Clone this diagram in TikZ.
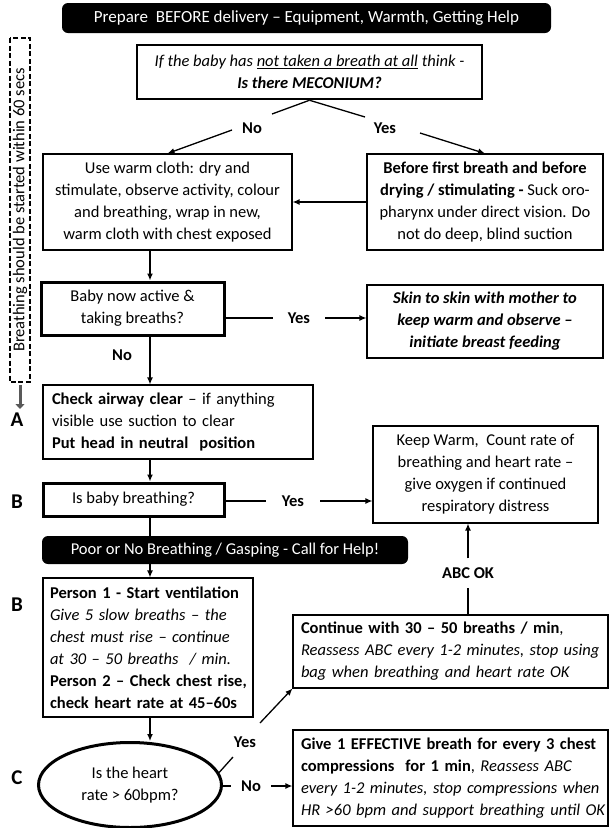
\documentclass[tikz,border=0pt]{standalone}
\usepackage{fontspec}
\setmainfont{Carlito}
\usetikzlibrary{arrows.meta,shapes.geometric,calc}
\newcommand\oneline[1]{\mbox{#1}}

\begin{document}
\begin{tikzpicture}[x=1pt,y=-1pt,
  font=\fontsize{16.5}{22}\selectfont,
  box/.style={draw, line width=1.1pt, inner sep=0pt, align=center},
  thickbox/.style={box, line width=3pt},
  leftbox/.style={box, align=left, inner xsep=#1},
  banner/.style={fill=black, text=white, rounded corners=6pt, inner sep=0pt},
  conn/.style={line width=1.3pt},
  arr/.style={conn, -{Latex[length=7pt,width=6pt]}},
  lbl/.style={font=\fontsize{16.5}{20}\selectfont\bfseries, inner ysep=0pt},
  letter/.style={font=\fontsize{21}{24}\selectfont\bfseries, inner sep=0pt},
]
\useasboundingbox (0,0) rectangle (609,828);

% --- headers -------------------------------------------------------
\node[banner, minimum width=489, minimum height=30, font=\fontsize{17}{22}\selectfont] (ban1) at (306.5,18)
  {Prepare\ \ BEFORE delivery – Equipment, Warmth, Getting Help};

\node[thickbox, line width=2.5pt, minimum width=345, minimum height=54] (mec) at (309.5,72)
  {\itshape If the baby has \underline{not taken a breath at all} think -\\
   \bfseries\itshape Is there MECONIUM?};

% --- first row -----------------------------------------------------
\node[box, minimum width=249, minimum height=96] (warm) at (167.5,202)
  {Use warm cloth: dry and\\ stimulate, observe activity, colour\\
   and breathing, wrap in new,\\ warm cloth with chest exposed};
\node[box, minimum width=236, minimum height=96] (before) at (485,202)
  {\textbf{Before first breath and before}\\ \textbf{drying / stimulating -} Suck oro-\\
   pharynx under direct vision. Do\\ not do deep, blind suction};

\node[thickbox, minimum width=183, minimum height=53] (baby) at (132.5,308.5)
  {Baby now active \&\\ taking breaths?};
\node[box, minimum width=236, minimum height=73] (skin) at (485,321.5)
  {\bfseries\itshape Skin to skin with mother to\\ \bfseries\itshape keep warm and observe –\\
   \bfseries\itshape initiate breast feeding};

\node[leftbox=9pt, text width=252, minimum height=74] (check) at (178,422)
  {\oneline{\textbf{Check airway clear} – if anything}\\ \oneline{visible use suction to clear}\\
   \oneline{\textbf{Put head in neutral\ \ position}}};
\node[box, minimum width=225, minimum height=97] (keep) at (485.5,474.5)
  {Keep Warm,\ \ Count rate of\\ breathing and heart rate –\\
   give oxygen if continued\\ respiratory distress};

\node[thickbox, minimum width=181, minimum height=33] (isb) at (133.5,499.5)
  {Is baby breathing?};

\node[banner, minimum width=366, minimum height=28] (ban2) at (225,550)
  {Poor or No Breathing / Gasping - Call for Help!};

\node[leftbox=7pt, text width=196, minimum height=139] (person) at (148,647.5)
  {\oneline{\textbf{Person 1 - Start ventilation}}\\
   \oneline{\itshape Give 5 slow breaths – the}\\
   \oneline{\itshape chest must rise – continue}\\
   \oneline{\itshape at 30 – 50 breaths\ \ / min.}\\
   \oneline{\textbf{Person 2 – Check chest rise,}}\\
   \oneline{\textbf{check heart\ rate at 45–60s}}};

\node[leftbox=8pt, text width=299, minimum height=73] (cont) at (450.5,651.5)
  {\oneline{\textbf{Continue with 30 – 50 breaths / min},}\\
   \oneline{\itshape Reassess ABC every 1-2 minutes, stop using}\\
   \oneline{\itshape bag when breathing and heart rate OK}};

\node[leftbox=8pt, text width=299, minimum height=96] (give) at (450.5,778)
  {\oneline{\textbf{Give 1 EFFECTIVE breath for every 3 chest}}\\
   \oneline{\textbf{compressions\ \ for 1 min}, \textit{Reassess ABC}}\\
   \oneline{\itshape every 1-2 minutes, stop compressions when}\\
   \oneline{\itshape HR >60 bpm and support breathing until OK}};

\node[ellipse, draw, line width=3pt, inner sep=0pt, align=center,
      minimum width=183, minimum height=85] (heart) at (130,785)
  {Is the heart\\ rate > 60bpm?};

% --- time bar on the left -----------------------------------------
\node[draw, dash pattern=on 5pt off 2.5pt, line width=1.6pt, rotate=90,
      minimum width=344, minimum height=20, inner sep=0pt] (breath) at (20,210)
  {Breathing should be started within 60 secs};
\coordinate (gtip) at (20,409);
\draw[line width=3pt, black!65, -{Triangle[length=5pt,width=9pt]}] (breath.west) ++(0,2) -- (gtip);

% --- step letters -------------------------------------------------
\node[letter] (lA) at (17,420) {A};
\node[letter] (lB1) at (17,502) {B};
\node[letter] (lB2) at (17,605) {B};
\node[letter] (lC) at (17,778) {C};

% --- labels -------------------------------------------------------
\node[lbl] (noM) at (252,128) {No};
\node[lbl] (yesM) at (385,128) {Yes};
\node[lbl, inner xsep=15pt] (yes1) at (299,318) {Yes};
\node[lbl] (noB) at (122,355) {No};
\node[lbl, inner xsep=16pt] (yes2) at (293,501) {Yes};
\node[lbl, inner ysep=9pt] (abc) at (468,573) {ABC OK};
\node[lbl] (yesH) at (245,742) {Yes};
\node[lbl, inner xsep=10pt] (noH) at (251,786) {No};

\coordinate (mNo1) at (272,114);
\coordinate (mNo2) at (232,130);
\coordinate (mYes1) at (365,117);
\coordinate (mYes2) at (420,133);
\coordinate (hY1) at (233,757);
\coordinate (hY2) at (260,723);
\coordinate (col) at (150,0);

% --- connectors ---------------------------------------------------
\draw[conn] (mec.south) -- (mNo1);
\draw[arr] (mNo2) -- (warm.north);
\draw[conn] (mec.south) -- (mYes1);
\draw[arr] (mYes2) -- (before.north);
\draw[arr] (before.west) -- (warm.east);

\draw[arr] (warm.south -| col) -- (baby.north -| col);
\draw[conn] (baby.east |- yes1) -- (yes1.west);
\draw[arr] (yes1.east) -- (skin.west |- yes1);
\draw[arr] (baby.south -| col) -- (check.north -| col);
\draw[arr] (check.south -| col) -- (isb.north -| col);
\draw[conn] (isb.east |- yes2) -- (yes2.west);
\draw[arr] (yes2.east) -- (keep.west |- yes2);
\draw[conn] (isb.south -| col) -- (ban2.north -| col);
\draw[arr] (ban2.south -| col) -- (person.north -| col);
\draw[arr] (person.south -| col) -- (heart.north -| col);

\draw[conn] (heart.8) -- (hY1);
\draw[arr] (hY2) -- (cont.south west);
\draw[conn] (heart.east |- noH) -- (noH.west);
\draw[arr] (noH.east) -- (give.west |- noH);

\draw[conn] (cont.north -| abc) -- (abc.south);
\draw[arr] (abc.north) -- (keep.south -| abc);
\end{tikzpicture}
\end{document}
